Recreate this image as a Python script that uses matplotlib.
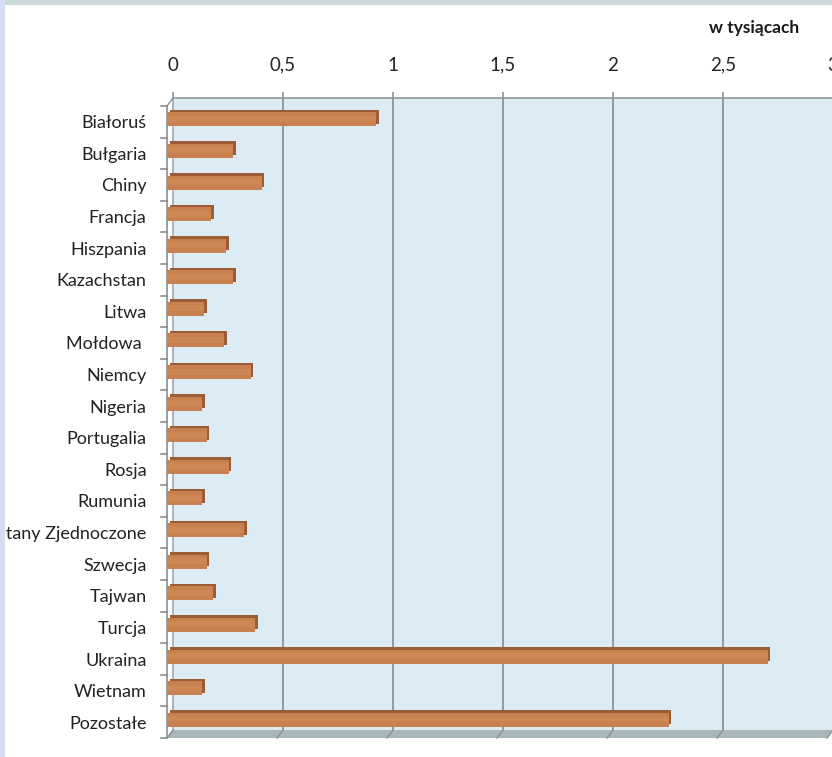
import matplotlib
matplotlib.use("Agg")
import matplotlib.pyplot as plt
from matplotlib.patches import Rectangle, Polygon
import numpy as np

# ---- data ----
categories = ["Białoruś", "Bułgaria", "Chiny", "Francja", "Hiszpania", "Kazachstan",
              "Litwa", "Mołdowa ", "Niemcy", "Nigeria", "Portugalia", "Rosja", "Rumunia",
              "Stany Zjednoczone", "Szwecja", "Tajwan", "Turcja", "Ukraina", "Wietnam",
              "Pozostałe"]
values = [0.95, 0.30, 0.43, 0.20, 0.27, 0.30, 0.17, 0.26, 0.38, 0.16, 0.18, 0.28,
          0.16, 0.35, 0.18, 0.21, 0.40, 2.73, 0.16, 2.28]
x_ticks = [0, 0.5, 1, 1.5, 2, 2.5, 3]
x_ticklabels = ["0", "0,5", "1", "1,5", "2", "2,5", "3"]
unit_label = "w tysiącach"

plt.rcParams['font.family'] = ['Lato', 'DejaVu Sans']

W, H = 832, 757
fig = plt.figure(figsize=(W / 100, H / 100), dpi=100)
fig.patch.set_facecolor("white")

# back wall geometry (pixels)
x0, x1 = 173, 833
ytop, ybot = 98, 730
ax = fig.add_axes([x0 / W, (H - ybot) / H, (x1 - x0) / W, (ybot - ytop) / H])
n = len(categories)
ax.set_xlim(0, 3)
ax.set_ylim(n - 0.5, -0.5)
ax.set_facecolor("#dbecf5")
for s in ax.spines.values():
    s.set_visible(False)

ppx = (x1 - x0) / 3.0
ppy = (ybot - ytop) / n
dx = 6 / ppx      # depth shift left (data units)
dy = 8 / ppy      # depth shift down (data units)

grid_c = "#8e9398"
for v in x_ticks[1:]:
    ax.plot([v, v], [-0.5, n - 0.5], color=grid_c, lw=1.3, zorder=1, clip_on=False)
ax.plot([0, 0], [-0.5, n - 0.5], color="#a4a8ac", lw=1.2, zorder=1, clip_on=False)
ax.plot([0, 3], [-0.5, -0.5], color="#9a9ea3", lw=1.3, zorder=1, clip_on=False)

# floor
floor = Polygon([(0, n - 0.5), (3, n - 0.5), (3 - dx, n - 0.5 + dy), (-dx, n - 0.5 + dy)],
                closed=True, facecolor="#a9b6ba", edgecolor="none", zorder=2, clip_on=False)
ax.add_patch(floor)
for v in x_ticks:
    ax.plot([v, v - dx], [n - 0.5, n - 0.5 + dy], color="#8a9095", lw=1.0, zorder=2.5,
            clip_on=False)

# front axis line + tick marks
ax.plot([-dx, -dx], [-0.5 + dy, n - 0.5 + dy], color="#8a8e92", lw=1.2, zorder=2,
        clip_on=False)
ax.plot([0, -dx], [-0.5, -0.5 + dy], color="#8a8e92", lw=1.0, zorder=2, clip_on=False)
for b in np.arange(n + 1) - 0.5:
    ax.plot([-dx, -dx - 6 / ppx], [b + dy, b + dy], color="#8a8e92", lw=1.2, zorder=2,
            clip_on=False)

# bars (3D look)
ypos = np.arange(n)
bh = 14 / ppy
yc = ypos + dy - 2.5 / ppy
side = ax.barh(yc - 2.5 / ppy, values, height=bh, left=-dx + 2.5 / ppx, color="#9c5c36",
               edgecolor="none", zorder=3)
front = ax.barh(yc, values, height=bh, left=-dx, color="#c7804e", edgecolor="none",
                zorder=4)
hl = ax.barh(yc - 0.5 / ppy, values, height=6 / ppy, left=-dx, color="#cc8755",
             edgecolor="none", zorder=5)
for cont in (side, front, hl):
    for p in cont.patches:
        p.set_clip_on(False)

# ticks / labels
ax.xaxis.tick_top()
ax.set_xticks(x_ticks)
ax.set_xticklabels(x_ticklabels)
ax.tick_params(axis="x", length=4.5, width=1.2, color=grid_c, pad=13, labelsize=13.5,
               labelcolor="#222222")
ax.set_yticks(ypos + dy)
ax.set_yticklabels(categories)
ax.tick_params(axis="y", length=0, pad=19, labelsize=13, labelcolor="#222222")

fig.text(754 / W, 1 - 28 / H, unit_label, ha="center", va="center", fontsize=12.5,
         fontweight="bold", color="#1a1a1a")

# outer frame strips
fig.add_artist(Rectangle((0, 1 - 5 / H), 1, 5 / H, transform=fig.transFigure,
                         facecolor="#c9d8da", edgecolor="none", zorder=10))
fig.add_artist(Rectangle((0, 0), 5 / W, 1, transform=fig.transFigure,
                         facecolor="#d2ddf1", edgecolor="none", zorder=10))

fig.savefig("out.png", dpi=100, facecolor=fig.get_facecolor())
